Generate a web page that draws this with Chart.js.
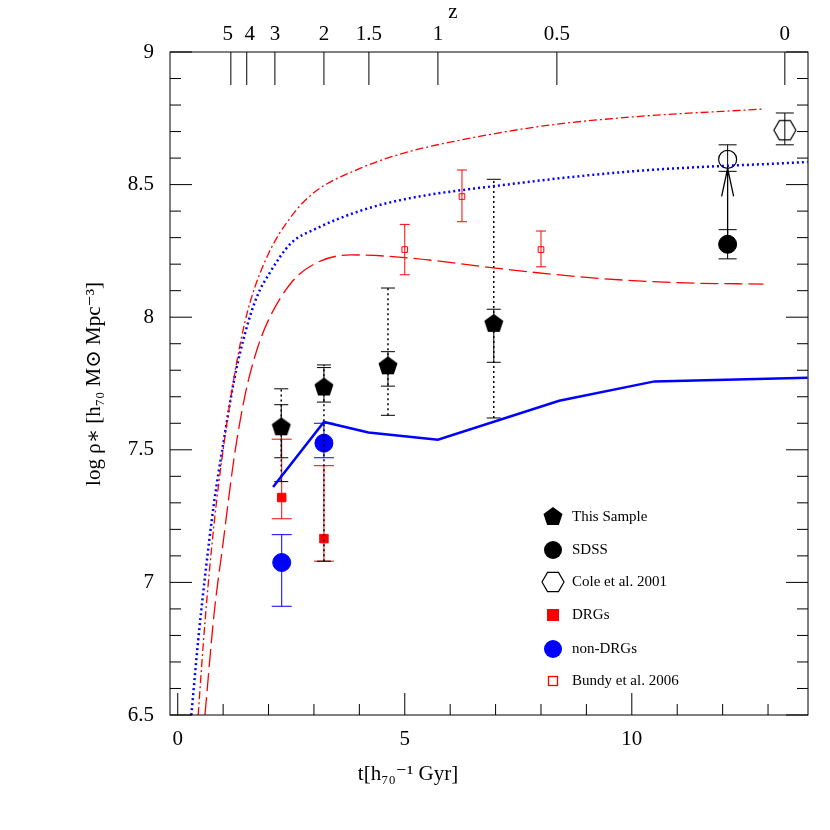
<!DOCTYPE html>
<html><head><meta charset="utf-8">
<script src="https://cdn.jsdelivr.net/npm/chart.js@4/dist/chart.umd.min.js"></script>
<style>body{margin:0;background:#fff}#w{width:830px;height:830px}</style>
</head><body><div id="w"><canvas id="c"></canvas></div>
<script>
// ---- data ----
const sampleX=[2.28,3.22,4.63,6.96], sampleY=[7.585,7.735,7.815,7.975];
const sampleLo=[7.47,7.68,7.74,7.83], sampleHi=[7.67,7.81,7.87,8.03];
const sampleDLo=[7.38,7.08,7.63,7.62], sampleDHi=[7.73,7.82,8.11,8.52];
const sdssX=[12.11], sdssY=[8.275], sdssLo=[8.22], sdssHi=[8.33];
const sdssOpenY=[8.595], sdssOpenLo=[8.55], sdssOpenHi=[8.65];
const coleX=[13.37], coleY=[8.705], coleLo=[8.65], coleHi=[8.77];
const drgX=[2.29,3.22], drgY=[7.32,7.165], drgLo=[7.24,7.08], drgHi=[7.54,7.44];
const ndrgX=[2.29,3.22], ndrgY=[7.075,7.525], ndrgLo=[6.91,7.47], ndrgHi=[7.18,7.60];
const bundyX=[5.0,6.26,8.0], bundyY=[8.255,8.455,8.255], bundyLo=[8.16,8.36,8.19], bundyHi=[8.35,8.555,8.325];
const blueSolidX=[2.1,3.22,4.2,5.73,8.4,10.5,13.87], blueSolidY=[7.36,7.605,7.565,7.538,7.685,7.758,7.772];
const blueDotX=[0.3,0.45,0.6,0.8,1.0,1.25,1.5,1.75,2.0,2.5,3,4,5,7,10,13.87];
const blueDotY=[6.5,6.78,7.02,7.3,7.52,7.77,7.95,8.08,8.16,8.28,8.33,8.40,8.445,8.495,8.55,8.585];
const redDDX=[0.45,0.6,0.8,1.0,1.2,1.4,1.6,2,2.5,3,4,5,6,8,10,12.9];
const redDDY=[6.5,6.85,7.22,7.5,7.73,7.92,8.06,8.24,8.38,8.47,8.56,8.62,8.66,8.72,8.755,8.785];
const redDashX=[0.6,0.8,1.0,1.25,1.5,1.75,2,2.5,3,3.8,5,7,9,11,12.9];
const redDashY=[6.5,6.88,7.15,7.48,7.72,7.88,7.99,8.13,8.2,8.235,8.225,8.185,8.15,8.13,8.125];
const zTickT=[1.17,1.52,2.14,3.22,4.21,5.73,8.35,13.37], zTickLbl=['5','4','3','2','1.5','1','0.5','0'];
const legendLbl=['This Sample','SDSS','Cole et al. 2001','DRGs','non-DRGs','Bundy et al. 2006'];

function mk(draw,s){const c=document.createElement('canvas');c.width=c.height=s;const g=c.getContext('2d');draw(g,s);return c;}
function poly(n,r,fill,rot){return mk((g,s)=>{g.beginPath();for(let i=0;i<n;i++){const a=rot+i*2*Math.PI/n;g.lineTo(s/2+r*Math.cos(a),s/2+r*Math.sin(a));}g.closePath();if(fill){g.fillStyle='#000';g.fill();}else{g.strokeStyle='#000';g.lineWidth=1.2;g.stroke();}},2*r+4);}
const pent=poly(5,10,true,-Math.PI/2), hex=poly(6,11,false,0);
const zip=(xs,ys)=>xs.map((x,i)=>({x,y:ys[i]}));
const ds=[];
function err(xs,lo,hi,color,dash,cap,w){xs.forEach((x,i)=>ds.push({data:[{x,y:lo[i]},{x,y:hi[i]}],showLine:true,borderColor:color,borderWidth:w||1,borderDash:dash||[],pointStyle:'line',pointRadius:cap,pointBorderColor:color,pointBorderWidth:1,pointHoverRadius:0}));}
function line(xs,ys,color,dash,w){ds.push({data:zip(xs,ys),showLine:true,borderColor:color,borderWidth:w,borderDash:dash,pointRadius:0,cubicInterpolationMode:'monotone'});}
line(redDDX,redDDY,'#f00',[8,3,2,3],1.3);
line(redDashX,redDashY,'#f00',[18,6],1.3);
line(blueDotX,blueDotY,'#00f',[2,3],2.5);
ds.push({data:zip(blueSolidX,blueSolidY),showLine:true,borderColor:'#00f',borderWidth:2.5,pointRadius:0});
err(sampleX,sampleDLo,sampleDHi,'#000',[2,3],7,1.5);
err(sampleX,sampleLo,sampleHi,'#000',[],7);
err(drgX,drgLo,drgHi,'#f00',[],10);
err(ndrgX,ndrgLo,ndrgHi,'#00f',[],10);
err(bundyX,bundyLo,bundyHi,'#f00',[],5);
err(sdssX,sdssLo,sdssHi,'#000',[],9);
err(sdssX,sdssOpenLo,sdssOpenHi,'#000',[],9);
err(coleX,coleLo,coleHi,'#000',[],9);
ds.push({data:zip(sdssX,sdssY),pointRadius:9,pointBackgroundColor:'#000',pointBorderColor:'#000'});
ds.push({data:zip(sdssX,sdssOpenY),pointRadius:9,pointBackgroundColor:'rgba(0,0,0,0)',pointBorderColor:'#000',pointBorderWidth:1.2});
ds.push({data:zip(coleX,coleY),pointStyle:hex,pointRadius:11});
ds.push({data:zip(sampleX,sampleY),pointStyle:pent,pointRadius:10});
ds.push({data:zip(drgX,drgY),pointStyle:'rect',pointRadius:6,pointBackgroundColor:'#f00',pointBorderColor:'#f00'});
ds.push({data:zip(ndrgX,ndrgY),pointRadius:9,pointBackgroundColor:'#00f',pointBorderColor:'#00f'});
ds.push({data:zip(bundyX,bundyY),pointStyle:'rect',pointRadius:4,pointBackgroundColor:'#fff',pointBorderColor:'#f00',pointBorderWidth:1});

const F='"Liberation Serif","DejaVu Serif",serif';
const deco={id:'deco',afterDatasetsDraw(ch){
 const g=ch.ctx,a=ch.chartArea,xs=ch.scales.x,ys=ch.scales.y;
 g.save();g.strokeStyle='#000';g.lineWidth=1;
 g.strokeRect(a.left,a.top,a.right-a.left,a.bottom-a.top);
 g.beginPath();
 for(let v=0;v<=13;v++){const p=xs.getPixelForValue(v),L=v%5==0?22:11;g.moveTo(p,a.bottom);g.lineTo(p,a.bottom-L);}
 for(let k=65;k<=90;k++){const v=k/10,p=ys.getPixelForValue(v),L=k%5==0?22:11;g.moveTo(a.left,p);g.lineTo(a.left+L,p);g.moveTo(a.right,p);g.lineTo(a.right-L,p);}
 zTickT.forEach(t=>{const p=xs.getPixelForValue(t);g.moveTo(p,a.top);g.lineTo(p,a.top+33);});
 g.stroke();
 const ax=xs.getPixelForValue(sdssX[0]),y0=ys.getPixelForValue(sdssY[0]),y1=ys.getPixelForValue(sdssOpenY[0])+9;
 g.lineWidth=1.3;g.beginPath();g.moveTo(ax,y0);g.lineTo(ax,y1);g.moveTo(ax-6,y1+28);g.lineTo(ax,y1);g.lineTo(ax+6,y1+28);g.stroke();
 g.fillStyle='#000';g.font='21px '+F;g.textAlign='center';g.textBaseline='alphabetic';
 zTickT.forEach((t,i)=>g.fillText(zTickLbl[i],xs.getPixelForValue(t)+(i==0?-3:i==1?3:0),40));
 g.fillText('z',453,18);
 // axis titles
 g.fillText('t[h\u2087\u2080\u207B\u00B9 Gyr]',408,780);
 g.save();g.translate(100,384);g.rotate(-Math.PI/2);g.fillText('log \u03C1\u2217 [h\u2087\u2080 M\u2299 Mpc\u207B\u00B3]',0,0);g.restore();
 const lx=553,rows=[517,550,582,615,649,681];
 g.font='15px '+F;g.textAlign='left';g.textBaseline='middle';
 rows.forEach((y,i)=>{
  if(i==0)g.drawImage(pent,lx-12,y-12);
  if(i==1){g.beginPath();g.arc(lx,y,9,0,7);g.fill();}
  if(i==2)g.drawImage(hex,lx-13,y-13);
  if(i==3){g.fillStyle='#f00';g.fillRect(lx-6,y-6,12,12);}
  if(i==4){g.fillStyle='#00f';g.beginPath();g.arc(lx,y,9,0,7);g.fill();}
  if(i==5){g.strokeStyle='#f00';g.strokeRect(lx-4.5,y-4.5,9,9);}
  g.fillStyle='#000';g.fillText(legendLbl[i],572,y);
 });
 g.restore();}};
new Chart(document.getElementById('c'),{type:'scatter',data:{datasets:ds},plugins:[deco],
options:{responsive:true,maintainAspectRatio:false,animation:false,devicePixelRatio:1,
 layout:{padding:{left:0,right:22,top:0,bottom:0}},
 plugins:{legend:{display:false},tooltip:{enabled:false}},
 scales:{
  x:{type:'linear',min:-0.17,max:13.88,grid:{display:false},border:{display:false},
     afterBuildTicks:s=>{s.ticks=[0,5,10].map(v=>({value:v}))},afterFit:s=>{s.height=115},
     ticks:{color:'#000',font:{family:F,size:21},padding:4,maxRotation:0}},
  x2:{type:'linear',position:'top',min:-0.17,max:13.88,display:true,grid:{display:false},border:{display:false},ticks:{display:false},afterFit:s=>{s.height=52}},
  y:{type:'linear',min:6.5,max:9,grid:{display:false},border:{display:false},
     afterBuildTicks:s=>{s.ticks=[6.5,7,7.5,8,8.5,9].map(v=>({value:v}))},afterFit:s=>{s.width=170},
     ticks:{color:'#000',font:{family:F,size:21},padding:8,callback:v=>String(v)}}
 }}});
</script></body></html>
